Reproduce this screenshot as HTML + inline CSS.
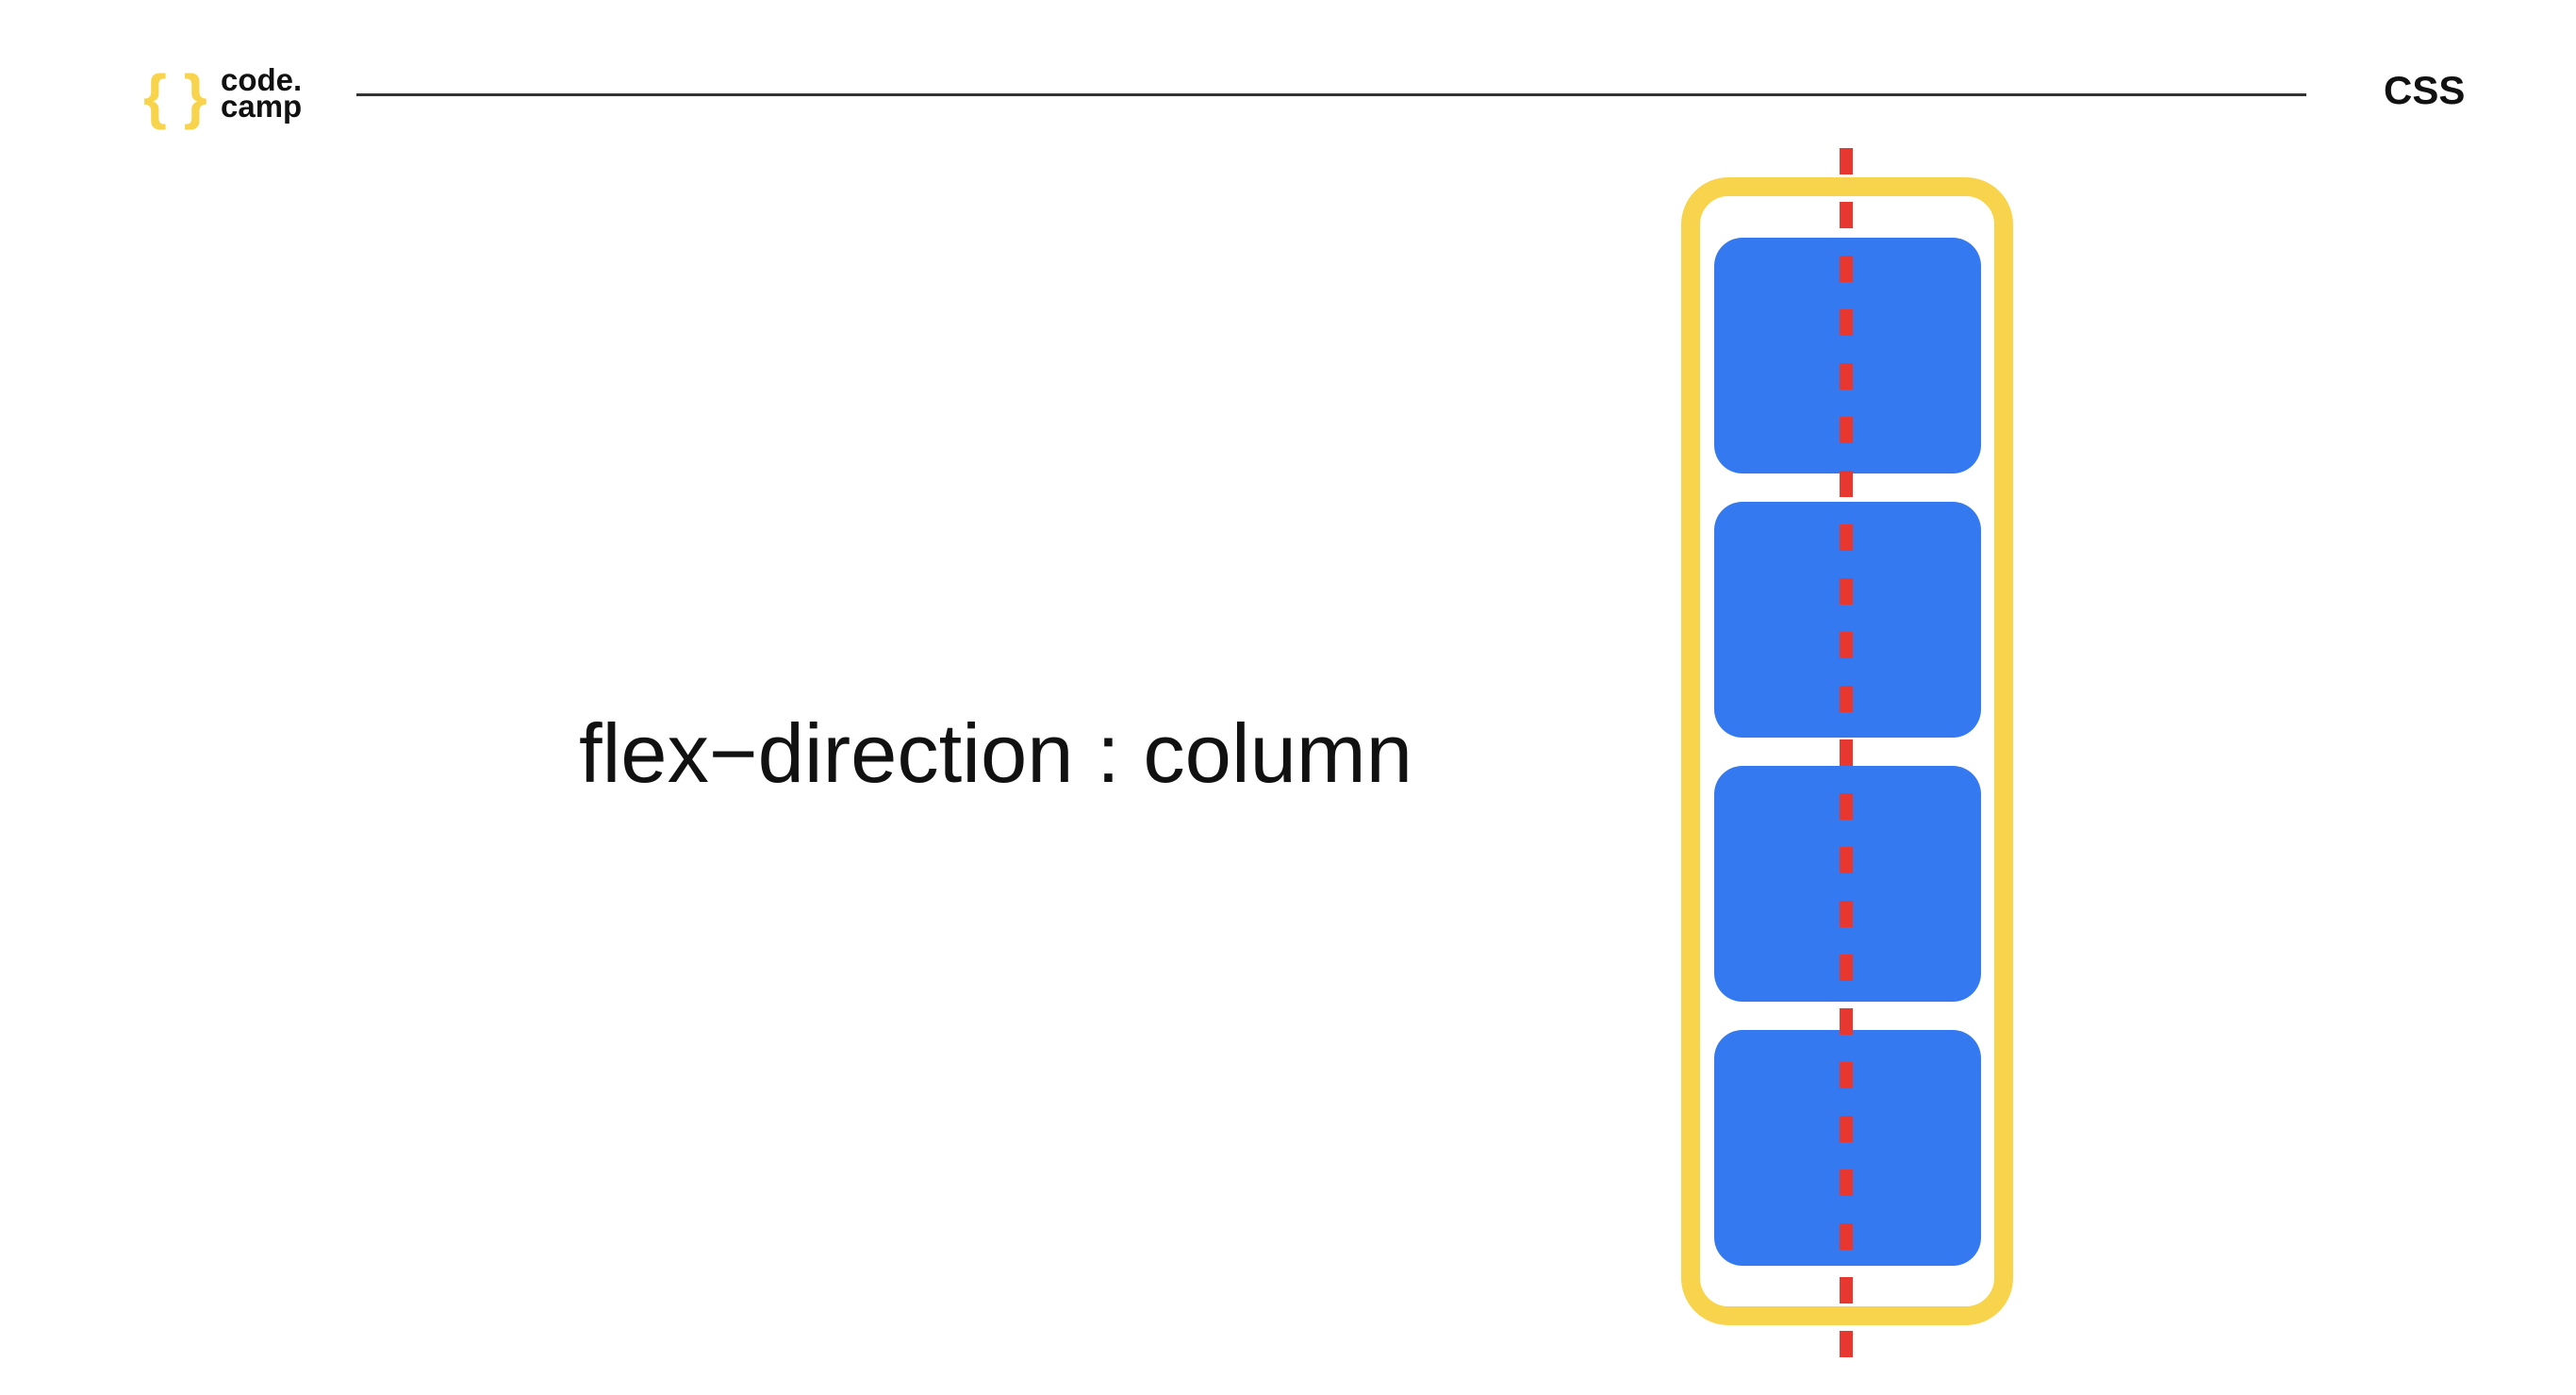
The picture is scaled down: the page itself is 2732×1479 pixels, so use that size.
<!DOCTYPE html>
<html><head><meta charset="utf-8"><style>
html,body{margin:0;padding:0;background:#fff;width:2732px;height:1479px;overflow:hidden}
svg{display:block}
</style></head><body>
<svg width="2732" height="1479" viewBox="0 0 2732 1479" xmlns="http://www.w3.org/2000/svg">
  <g>
    <text x="152" y="124" font-family="Liberation Sans, sans-serif" font-size="64" fill="#f7d44c" font-weight="bold">{ }</text>
    <text x="234" y="96" font-family="Liberation Sans, sans-serif" font-size="33" font-weight="bold" fill="#111">code.</text>
    <text x="234" y="124" font-family="Liberation Sans, sans-serif" font-size="33" font-weight="bold" fill="#111">camp</text>
  </g>
  <rect x="378" y="99" width="2068" height="3" fill="#333"/>
  <text x="2528" y="110" font-family="Liberation Sans, sans-serif" font-size="42" font-weight="bold" fill="#111">CSS</text>
  <text x="614" y="829" font-family="Liberation Sans, sans-serif" font-size="88" fill="#111" textLength="884" lengthAdjust="spacingAndGlyphs">flex−direction : column</text>
  <g id="diagram">
    <rect x="1793" y="198" width="332" height="1197" rx="40" fill="none" stroke="#f7d44c" stroke-width="20"/>
  </g>
</svg>
<script>
const items = [1, 2, 3, 4];
const g = document.getElementById('diagram');
const NS = 'http://www.w3.org/2000/svg';
items.forEach((v, i) => {
  const r = document.createElementNS(NS, 'rect');
  r.setAttribute('x', 1818);
  r.setAttribute('y', 252 + i * 280);
  r.setAttribute('width', 283);
  r.setAttribute('height', 250);
  r.setAttribute('rx', 30);
  r.setAttribute('fill', '#3579f0');
  
  
  g.appendChild(r);
});
const axis = document.createElementNS(NS, 'line');
axis.setAttribute('x1', 1958); axis.setAttribute('x2', 1958);
axis.setAttribute('y1', 157); axis.setAttribute('y2', 1440);
axis.setAttribute('stroke', '#e8372f');
axis.setAttribute('stroke-width', 14);
axis.setAttribute('stroke-dasharray', '28 29');


g.appendChild(axis);
</script>
</body></html>
